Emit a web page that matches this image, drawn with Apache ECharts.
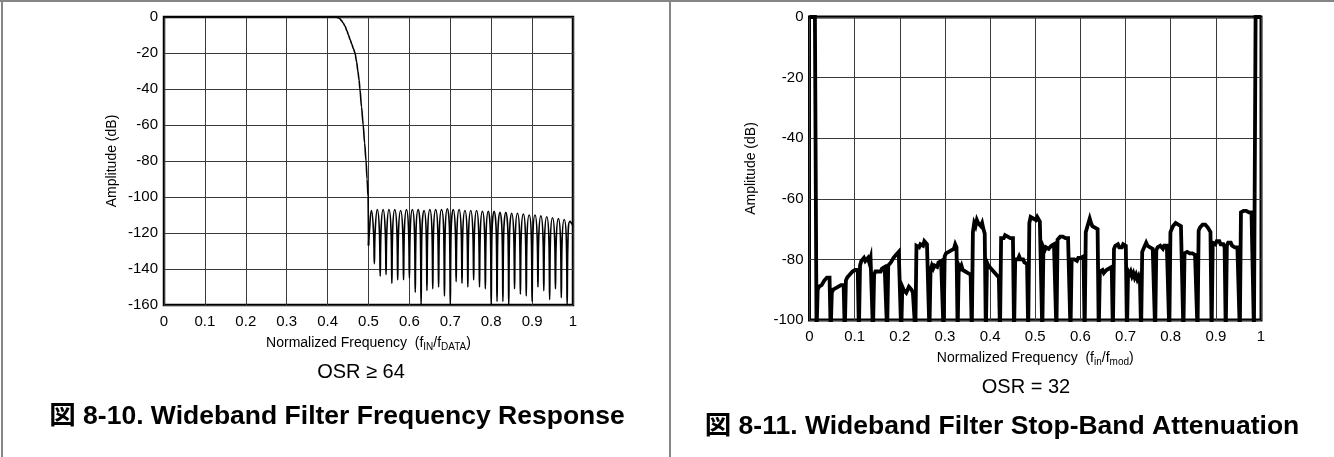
<!DOCTYPE html>
<html><head><meta charset="utf-8">
<script src="https://cdn.jsdelivr.net/npm/echarts@6/dist/echarts.min.js"></script>
<style>html,body{margin:0;padding:0;background:#fff}#c{width:1334px;height:457px}</style>
</head><body><div id="c"></div>
<script>
// ---------- tick labels ----------
const freqTicks = ['0','0.1','0.2','0.3','0.4','0.5','0.6','0.7','0.8','0.9','1'];

// ---------- Fig 8-10 : passband + transition ----------
const passbandPts = [[0,0],[0.418,0],[0.422,-0.1],[0.426,-0.4],[0.430,-1],[0.434,-2],[0.438,-3.3],
  [0.4425,-5],[0.447,-7.5],[0.451,-10],[0.455,-12.5],[0.459,-15],[0.463,-17.5],[0.467,-20],
  [0.471,-25],[0.474,-30],[0.477,-35],[0.479,-40],[0.483,-50],[0.487,-60],[0.4905,-70],
  [0.494,-80],[0.4965,-90],[0.499,-100],[0.5,-127]];

// ---------- Fig 8-10 : stop-band lobes ----------
const lobeNullFreq = [0.5000,0.5143,0.5286,0.5429,0.5571,0.5714,0.5857,0.6000,0.6143,0.6286,
  0.6429,0.6571,0.6714,0.6857,0.7000,0.7143,0.7286,0.7429,0.7571,0.7714,0.7857,0.8000,0.8143,
  0.8286,0.8429,0.8571,0.8714,0.8857,0.9000,0.9143,0.9286,0.9429,0.9571,0.9714,0.9857];
const lobeNullDb = [-127,-137,-144,-143,-148,-146,-146,-145,-153,-160,-152,-151,-150,-155,-160,
  -147,-148,-150,-146,-150,-151,-160,-158,-158,-160,-151,-154,-155,-158,-150,-152,-157,-151,-156,-160];
const lobePeakDb = [-107.5,-107,-107,-107,-107,-107.5,-107,-107,-107,-107.5,-107,-107,-107,-106.5,-107,
  -107,-107.5,-107.5,-107.5,-108,-108,-108,-108.5,-108.5,-109,-109,-109.5,-110,-110,-110.5,-111,
  -111.5,-112,-112.5,-113.5];
const lobeLegDb = [-120.5,-120,-120,-120,-120,-120.5,-120,-120,-120,-120.5,-120,-120,-120,-119.5,-120,
  -120,-120.5,-120.5,-120.5,-121,-121,-121,-121.5,-121.5,-122,-122,-122.5,-123,-123,-123.5,-124,
  -124.5,-125,-125.5,-126.5];
const stopbandEnd = [1.0, -116];

const LEG = 0.0018; // leg offset from a null (shape of the arch)
const stopbandPts = [];
for (let k = 0; k < lobeNullFreq.length; k++) {
  const a = lobeNullFreq[k];
  const b = k + 1 < lobeNullFreq.length ? lobeNullFreq[k + 1] : stopbandEnd[0];
  stopbandPts.push([a, lobeNullDb[k]]);
  stopbandPts.push([a + LEG, lobeLegDb[k]]);
  stopbandPts.push([(a + b) / 2, lobePeakDb[k]]);
  if (k + 1 < lobeNullFreq.length) stopbandPts.push([b - LEG, lobeLegDb[k]]);
}
stopbandPts.push(stopbandEnd);

// ---------- Fig 8-11 : nulls (odd multiples of 1/64) and block levels ----------
const nullFreq = [0.0156,0.0469,0.0781,0.1094,0.1406,0.1719,0.2031,0.2344,0.2656,0.2969,0.3281,
  0.3594,0.3906,0.4219,0.4531,0.4844,0.5156,0.5469,0.5781,0.6094,0.6406,0.6719,0.7031,0.7344,
  0.7656,0.7969,0.8281,0.8594,0.8906,0.9219,0.9531,0.9844];
const blockDb = [
 [-90,-89,-89.5,-88.5,-88,-87,-87.5,-86,-85.5,-86],
 [-91,-90,-90.5,-89.5,-89.5,-89,-89.5,-88.5,-89,-88.5],
 [-87,-86,-86.5,-85,-85.5,-84,-84.5,-83.5,-83,-83.5],
 [-82,-80.5,-80,-79.5,-80.5,-80,-79.5,-81,-79.5,-80],
 [-85,-84,-84.5,-84,-83.5,-84,-83,-83.5,-82.5,-83],
 [-82,-81.5,-81,-80.5,-79.5,-80,-78.5,-78,-77.5,-78],
 [-89,-90,-89.5,-91,-90,-89,-89.5,-90,-91,-91.5],
 [-75.5,-75,-76,-75,-74.5,-75.5,-74,-74.5,-75,-75.5],
 [-83.5,-82,-83,-82,-81.5,-82.5,-81,-81.5,-80.5,-81],
 [-79,-78,-78.5,-77.5,-78,-77,-77.5,-76.5,-75,-76],
 [-82,-83,-82,-83.5,-83,-84,-83.5,-84.5,-84,-85],
 [-71,-68,-69,-67,-68,-67.5,-69,-68,-70,-71.5],
 [-81,-82,-81.5,-83,-83.5,-84,-83.5,-85,-84.5,-86],
 [-73,-72.5,-73,-72,-72.5,-72.5,-72,-73,-72.5,-73],
 [-80,-79.5,-80,-79,-80,-80.5,-80,-81,-80.5,-81.5],
 [-68,-66,-65.5,-66.5,-66,-67,-66,-66.5,-67.5,-68],
 [-76,-77,-76,-75.5,-76.5,-76,-75.5,-76,-75,-75.5],
 [-73.5,-73,-72.5,-73,-72.5,-72.5,-73,-72.5,-73,-73],
 [-80,-79.5,-80,-79.5,-80.5,-79.5,-79,-79.5,-79,-79],
 [-71,-69.5,-68,-66.5,-68,-69,-68.5,-69.5,-69,-70],
 [-84,-84.5,-83.5,-84.5,-84,-83.5,-84,-83,-83.5,-82.5],
 [-76.5,-75.5,-76,-75,-76,-75.5,-76,-75,-75.5,-75.5],
 [-84,-85,-84,-85.5,-84.5,-86,-85,-86.5,-85.5,-87],
 [-77.5,-76.5,-76,-74.5,-75.5,-75,-76,-75.5,-76.5,-76],
 [-77,-76,-76.5,-75.5,-76,-76.5,-75.5,-76,-75.5,-75.5],
 [-71,-70,-69,-68.5,-68,-67.5,-68.5,-68,-69,-69.5],
 [-78,-78,-77.5,-78,-78,-77.5,-78,-78,-78.5,-78],
 [-70.5,-69.5,-69,-68.5,-69,-68.5,-69,-69.5,-70,-71],
 [-74.5,-74,-75,-74,-74.5,-74,-75,-74.5,-75,-76],
 [-75.5,-74.5,-75,-74.5,-75.5,-75,-76,-75.5,-76,-76.5],
 [-64.5,-64.5,-64,-64.5,-64,-64.5,-64.5,-64,-64.5,-64.5]
];
const edgeSpikeStart = [[0,0],[0.012,0]];
const edgeSpikeEnd = [[0.988,0],[1,0]];
const nullDb = -104;

// build Fig 8-11 line from the arrays
const rightPts = edgeSpikeStart.slice();
for (let j = 0; j < blockDb.length; j++) {
  const a = nullFreq[j], b = nullFreq[j + 1];
  rightPts.push([a, nullDb]);
  const vals = blockDb[j], n = vals.length;
  const x0 = a + 0.0025, x1 = b - 0.0025;
  vals.forEach((v, i) => rightPts.push([x0 + (x1 - x0) * i / (n - 1), v]));
}
rightPts.push([nullFreq[nullFreq.length - 1], nullDb]);
edgeSpikeEnd.forEach(p => rightPts.push(p));

// ---------- chart ----------
const FONT = '"Liberation Sans", Arial, Helvetica, sans-serif';
const TFONT = 'bold 26.5px "Liberation Sans", "Noto Sans CJK JP", sans-serif';
const chart = echarts.init(document.getElementById('c'), null, {renderer: 'canvas'});
const fmtFreq = v => freqTicks[Math.round(v * 10)];
function xAxisCfg(gridIndex, nameRich, gap) {
  return {
    type: 'value', gridIndex, min: 0, max: 1, interval: 0.1,
    axisLine: {show: false}, axisTick: {show: false},
    splitLine: {show: true, lineStyle: {color: '#3a3a3a', width: 1}},
    axisLabel: {formatter: fmtFreq, color: '#000', fontFamily: FONT, fontSize: 15, margin: 9},
    name: nameRich, nameLocation: 'middle', nameGap: gap,
    nameTextStyle: {
      color: '#000', fontFamily: FONT,
      rich: {
        a: {fontSize: 14, lineHeight: 16, fontFamily: FONT, color: '#000'},
        s: {fontSize: 10, lineHeight: 12, padding: [8, 0, 0, 0], fontFamily: FONT, color: '#000'}
      }
    }
  };
}
function yAxisCfg(gridIndex, min, gap) {
  return {
    type: 'value', gridIndex, min, max: 0, interval: 20,
    axisLine: {show: false}, axisTick: {show: false},
    splitLine: {show: true, lineStyle: {color: '#3a3a3a', width: 1}},
    axisLabel: {color: '#000', fontFamily: FONT, fontSize: 15, margin: 6},
    name: 'Amplitude (dB)', nameLocation: 'middle', nameGap: gap, nameRotate: 90,
    nameTextStyle: {color: '#000', fontFamily: FONT, fontSize: 14}
  };
}

chart.setOption({
  animation: false,
  backgroundColor: '#fff',
  grid: [
    {left: 164, top: 17, width: 409, height: 288, show: true, borderColor: '#000', borderWidth: 2.5, backgroundColor: 'transparent'},
    {left: 809.5, top: 17, width: 451.5, height: 303, show: true, borderColor: '#000', borderWidth: 3, backgroundColor: 'transparent'}
  ],
  xAxis: [
    xAxisCfg(0, '{a|Normalized Frequency  (f}{s|IN}{a|/f}{s|DATA}{a|)}', 25),
    xAxisCfg(1, '{a|Normalized Frequency  (f}{s|in}{a|/f}{s|mod}{a|)}', 26)
  ],
  yAxis: [yAxisCfg(0, -160, 45), yAxisCfg(1, -100, 51)],
  series: [
    {type: 'line', xAxisIndex: 0, yAxisIndex: 0, data: passbandPts, showSymbol: false,
     smooth: 0.3, smoothMonotone: 'x', lineStyle: {color: '#000', width: 1.6}, z: 3},
    {type: 'line', xAxisIndex: 0, yAxisIndex: 0, data: stopbandPts, showSymbol: false, smooth: 0.5,
     lineStyle: {color: '#000', width: 1.6}, z: 3},
    {type: 'line', xAxisIndex: 1, yAxisIndex: 1, data: rightPts, showSymbol: false,
     lineStyle: {color: '#000', width: 3.8, join: 'miter'}, z: 3}
  ],
  graphic: {elements: [
    {type: 'rect', silent: true, shape: {x: 0, y: 0, width: 1334, height: 2}, style: {fill: '#858585'}},
    {type: 'rect', silent: true, shape: {x: 1, y: 0, width: 2, height: 457}, style: {fill: '#858585'}},
    {type: 'rect', silent: true, shape: {x: 669, y: 0, width: 2, height: 457}, style: {fill: '#858585'}},
    {type: 'text', silent: true, x: 361, y: 372, style: {text: 'OSR ≥ 64', font: '20px ' + FONT, fill: '#000', align: 'center', verticalAlign: 'middle'}},
    {type: 'text', silent: true, x: 1026, y: 387, style: {text: 'OSR = 32', font: '20px ' + FONT, fill: '#000', align: 'center', verticalAlign: 'middle'}},
    {type: 'text', silent: true, x: 337, y: 417, style: {text: '図 8-10. Wideband Filter Frequency Response', font: TFONT, fill: '#000', align: 'center', verticalAlign: 'middle'}},
    {type: 'text', silent: true, x: 1002, y: 427, style: {text: '図 8-11. Wideband Filter Stop-Band Attenuation', font: TFONT, fill: '#000', align: 'center', verticalAlign: 'middle'}}
  ]}
});
</script></body></html>
